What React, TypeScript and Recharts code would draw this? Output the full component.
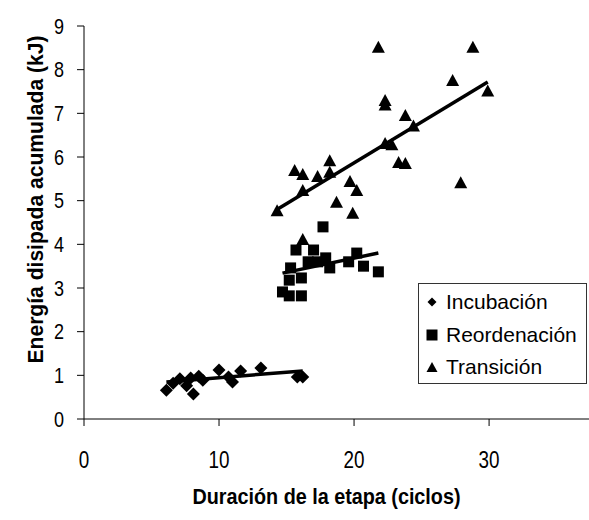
import React from 'react';
import { ScatterChart, Scatter, XAxis, YAxis } from 'recharts';

const incubacionX = [6.1, 6.6, 7.1, 7.6, 7.9, 8.1, 8.5, 8.8, 10.0, 10.7, 11.0, 11.6, 13.1, 15.8, 16.2];
const incubacionY = [0.66, 0.82, 0.92, 0.76, 0.94, 0.57, 0.98, 0.89, 1.12, 0.96, 0.85, 1.1, 1.17, 0.96, 0.96];

const reordenacionX = [14.7, 15.2, 15.2, 15.3, 15.7, 16.1, 16.1, 16.6, 17.0, 17.3, 17.7, 17.9, 18.2, 19.6, 20.2, 20.7, 21.8];
const reordenacionY = [2.91, 2.82, 3.18, 3.46, 3.87, 2.82, 3.23, 3.6, 3.87, 3.6, 4.4, 3.69, 3.46, 3.6, 3.8, 3.5, 3.37];

const transicionX = [14.3, 15.6, 16.2, 16.2, 17.3, 18.2, 18.2, 18.7, 19.7, 19.9, 20.2, 16.2, 21.8, 22.3, 22.3, 23.8, 24.4, 22.3, 22.8, 23.3, 23.8, 27.9, 27.3, 28.8, 29.9];
const transicionY = [4.76, 5.68, 5.59, 5.22, 5.54, 5.9, 5.64, 4.95, 5.43, 4.7, 5.22, 4.1, 8.5, 7.18, 7.28, 6.94, 6.7, 6.3, 6.27, 5.86, 5.84, 5.4, 7.74, 8.5, 7.5];

const trendIncX = [6.1, 16.2];
const trendIncY = [0.85, 1.1];
const trendReoX = [14.7, 21.8];
const trendReoY = [3.34, 3.8];
const trendTraX = [14.2, 29.9];
const trendTraY = [4.78, 7.72];

const xTicks = [0, 10, 20, 30];
const yTicks = [0, 1, 2, 3, 4, 5, 6, 7, 8, 9];
const xDomain = [0, 37.4];
const yDomain = [0, 9];

const seriesNames = ['Incubación', 'Reordenación', 'Transición'];
const xTitle = 'Duración de la etapa (ciclos)';
const yTitle = 'Energía disipada acumulada (kJ)';

const zip = (xs: number[], ys: number[]) => xs.map((x, i) => ({ x, y: ys[i] }));

const incData = zip(incubacionX, incubacionY);
const reoData = zip(reordenacionX, reordenacionY);
const traData = zip(transicionX, transicionY);
const tIncData = zip(trendIncX, trendIncY);
const tReoData = zip(trendReoX, trendReoY);
const tTraData = zip(trendTraX, trendTraY);

const FONT = "'Liberation Sans', Arial, Helvetica, sans-serif";
const COND = 0.82;

const Diamond = (props: any) => {
  const { cx, cy } = props;
  const r = 6.5;
  return <polygon points={`${cx},${cy - r} ${cx + r},${cy} ${cx},${cy + r} ${cx - r},${cy}`} fill="#000" />;
};
const Square = (props: any) => {
  const { cx, cy } = props;
  const s = 11;
  return <rect x={cx - s / 2} y={cy - s / 2} width={s} height={s} fill="#000" />;
};
const Triangle = (props: any) => {
  const { cx, cy } = props;
  return <polygon points={`${cx},${cy - 7} ${cx + 6.5},${cy + 5} ${cx - 6.5},${cy + 5}`} fill="#000" />;
};
const NoShape = () => <g />;

const XTick = (props: any) => {
  const { x, y, payload } = props;
  return (
    <text transform={`translate(${x},${y}) scale(${COND},1)`} textAnchor="middle" dy="0.71em" fontFamily={FONT} fontSize={23} fill="#000">
      {payload.value}
    </text>
  );
};
const YTick = (props: any) => {
  const { x, y, payload } = props;
  return (
    <text transform={`translate(${x},${y}) scale(${COND},1)`} textAnchor="end" dy="0.355em" fontFamily={FONT} fontSize={22} fill="#000">
      {payload.value}
    </text>
  );
};

const legendIcon = (i: number) => {
  if (i === 0) return <svg width={14} height={14} style={{ display: 'block' }}><polygon points="7,2.5 11.5,7 7,11.5 2.5,7" fill="#000" /></svg>;
  if (i === 1) return <svg width={14} height={14} style={{ display: 'block' }}><rect x={1.5} y={1.5} width={11} height={11} fill="#000" /></svg>;
  return <svg width={14} height={14} style={{ display: 'block' }}><polygon points="7,2 12.5,12 1.5,12" fill="#000" /></svg>;
};

const LegendBox = () => (
  <div
    style={{
      position: 'absolute',
      left: 418,
      top: 283,
      boxSizing: 'border-box',
      width: 169,
      height: 101,
      border: '1px solid #333',
      background: '#fff',
      fontFamily: FONT,
      fontSize: 21,
      color: '#000',
      paddingTop: 2,
    }}
  >
    {seriesNames.map((n, i) => (
      <div key={n} style={{ display: 'flex', alignItems: 'center', height: 32.5, paddingLeft: 6 }}>
        <span style={{ display: 'inline-block', width: 14, height: 14, marginRight: 7 }}>{legendIcon(i)}</span>
        <span style={{ lineHeight: '24px', whiteSpace: 'nowrap' }}>{n}</span>
      </div>
    ))}
  </div>
);

const XTitle = (props: any) => {
  const { viewBox } = props;
  return (
    <text
      x={viewBox.x + viewBox.width / 2 - 10}
      y={viewBox.y + 85}
      textAnchor="middle"
      fontFamily={FONT}
      fontWeight="bold"
      fontSize={22.5}
      textLength={268}
      lengthAdjust="spacingAndGlyphs"
      fill="#000"
    >
      {xTitle}
    </text>
  );
};

const YTitle = (props: any) => {
  const { viewBox } = props;
  const cx = 43;
  const cy = viewBox.y + viewBox.height / 2 - 23;
  return (
    <text
      x={cx}
      y={cy}
      transform={`rotate(-90, ${cx}, ${cy})`}
      textAnchor="middle"
      fontFamily={FONT}
      fontWeight="bold"
      fontSize={22.5}
      textLength={328}
      lengthAdjust="spacingAndGlyphs"
      fill="#000"
    >
      {yTitle}
    </text>
  );
};

export default function App() {
  return (
    <div style={{ position: 'absolute', left: 0, top: 0, width: 589, height: 520, background: '#fff' }}>
      <ScatterChart width={589} height={520} margin={{ top: 26, right: 0, bottom: 0, left: 0 }}>
        <XAxis
          type="number"
          dataKey="x"
          domain={xDomain}
          ticks={xTicks}
          allowDataOverflow
          height={101}
          tickSize={7}
          tickMargin={26}
          axisLine={{ stroke: '#000', strokeWidth: 1 }}
          tickLine={{ stroke: '#000' }}
          tick={<XTick />}
          label={(p: any) => <XTitle {...p} />}
        />
        <XAxis
          xAxisId="top"
          type="number"
          orientation="top"
          domain={xDomain}
          height={0}
          tick={false}
          tickLine={false}
          axisLine={{ stroke: '#000', strokeWidth: 1 }}
        />
        <YAxis
          type="number"
          dataKey="y"
          domain={yDomain}
          ticks={yTicks}
          width={84}
          tickSize={7}
          tickMargin={13}
          interval={0}
          axisLine={{ stroke: '#000', strokeWidth: 1 }}
          tickLine={{ stroke: '#000' }}
          tick={<YTick />}
          label={(p: any) => <YTitle {...p} />}
        />
        <Scatter name={seriesNames[0]} data={incData} shape={Diamond} isAnimationActive={false} />
        <Scatter name={seriesNames[1]} data={reoData} shape={Square} isAnimationActive={false} />
        <Scatter name={seriesNames[2]} data={traData} shape={Triangle} isAnimationActive={false} />
        <Scatter data={tIncData} shape={NoShape} line={{ stroke: '#000', strokeWidth: 3.5 }} legendType="none" isAnimationActive={false} />
        <Scatter data={tReoData} shape={NoShape} line={{ stroke: '#000', strokeWidth: 3.5 }} legendType="none" isAnimationActive={false} />
        <Scatter data={tTraData} shape={NoShape} line={{ stroke: '#000', strokeWidth: 3.5 }} legendType="none" isAnimationActive={false} />
      </ScatterChart>
      <LegendBox />
    </div>
  );
}
